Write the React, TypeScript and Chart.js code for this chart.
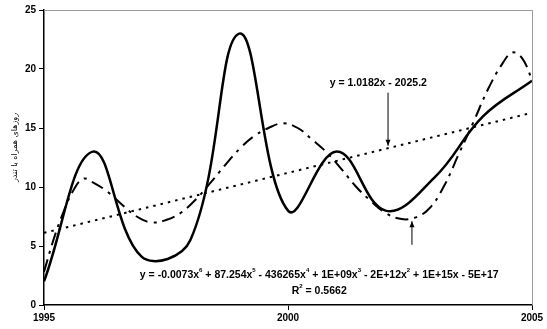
import { useEffect, useRef } from "react";
import { Chart, registerables } from "chart.js";

Chart.register(...registerables);

const years = [1995, 1996, 1997, 1998, 1999, 2000, 2001, 2002, 2003, 2004, 2005];
const observed = [2, 13, 4.1, 5.5, 23, 8, 13, 8, 10.8, 16, 19];

const polyYears = [1995.0, 1995.2, 1995.4, 1995.6, 1995.8, 1996.0, 1996.3, 1996.6, 1996.9, 1997.2, 1997.5, 1997.8, 1998.1, 1998.4, 1998.7, 1999.0, 1999.3, 1999.6, 1999.9, 2000.2, 2000.5, 2000.8, 2001.1, 2001.4, 2001.7, 2002.0, 2002.3, 2002.6, 2002.9, 2003.2, 2003.5, 2003.8, 2004.1, 2004.4, 2004.6, 2004.8, 2005.0];
const polyValues = [2.8, 5.6, 7.9, 9.7, 10.7, 10.4, 9.6, 8.5, 7.5, 7.0, 7.2, 7.8, 8.9, 10.3, 11.8, 13.2, 14.3, 15.0, 15.4, 15.0, 14.0, 12.9, 11.5, 10.0, 8.8, 7.8, 7.3, 7.4, 8.2, 10.1, 12.8, 15.5, 18.3, 20.5, 21.4, 20.9, 19.1];

const trendYears = [1995, 2005];
const trendValues = [6.11, 16.29];

const yTicks = [0, 5, 10, 15, 20, 25];
const xTicks = [1995, 2000, 2005];

const yTitle = "روزهای همراه با تندر";
const linearEq = "y = 1.0182x - 2025.2";
const polyEq: [string, boolean][] = [
  ["y = -0.0073x", false], ["6", true], [" + 87.254x", false], ["5", true],
  [" - 436265x", false], ["4", true], [" + 1E+09x", false], ["3", true],
  [" - 2E+12x", false], ["2", true], [" + 1E+15x - 5E+17", false],
];
const r2Eq: [string, boolean][] = [["R", false], ["2", true], [" = 0.5662", false]];

const FONT = "'Liberation Sans', Arial, sans-serif";

function drawRich(ctx: CanvasRenderingContext2D, segs: [string, boolean][], cx: number, cy: number, size: number) {
  const main = `bold ${size}px ${FONT}`;
  const sup = `bold ${Math.round(size * 0.6)}px ${FONT}`;
  let total = 0;
  for (const [t, s] of segs) {
    ctx.font = s ? sup : main;
    total += ctx.measureText(t).width;
  }
  let x = cx - total / 2;
  ctx.textBaseline = "middle";
  ctx.textAlign = "left";
  for (const [t, s] of segs) {
    ctx.font = s ? sup : main;
    ctx.fillText(t, x, s ? cy - size * 0.4 : cy);
    x += ctx.measureText(t).width;
  }
}

function arrow(ctx: CanvasRenderingContext2D, x: number, y1: number, y2: number) {
  ctx.beginPath();
  ctx.moveTo(x, y1);
  ctx.lineTo(x, y2);
  ctx.strokeStyle = "#000";
  ctx.lineWidth = 1;
  ctx.setLineDash([]);
  ctx.stroke();
  const dir = y2 > y1 ? 1 : -1;
  ctx.beginPath();
  ctx.moveTo(x, y2);
  ctx.lineTo(x - 2.5, y2 - dir * 6);
  ctx.lineTo(x + 2.5, y2 - dir * 6);
  ctx.closePath();
  ctx.fillStyle = "#000";
  ctx.fill();
}

const annotations = {
  id: "annotations",
  afterDatasetsDraw(chart: any) {
    const { ctx, chartArea: a, scales } = chart;
    const xs = scales.x, ys = scales.y;
    ctx.save();
    ctx.strokeStyle = "#9a9a9a";
    ctx.lineWidth = 1;
    ctx.setLineDash([]);
    ctx.beginPath();
    ctx.moveTo(a.left, a.top + 0.5);
    ctx.lineTo(a.right + 0.5, a.top + 0.5);
    ctx.lineTo(a.right + 0.5, a.bottom);
    ctx.stroke();

    ctx.fillStyle = "#000";
    ctx.font = `bold 10.5px ${FONT}`;
    ctx.textAlign = "center";
    ctx.textBaseline = "middle";
    ctx.fillText(linearEq, xs.getPixelForValue(2001.85), ys.getPixelForValue(18.8));
    arrow(ctx, xs.getPixelForValue(2002.05), ys.getPixelForValue(18.0), ys.getPixelForValue(13.5));
    arrow(ctx, xs.getPixelForValue(2002.54), ys.getPixelForValue(5.1), ys.getPixelForValue(7.1));

    ctx.fillStyle = "#000";
    drawRich(ctx, polyEq, xs.getPixelForValue(2000.64), ys.getPixelForValue(2.54), 10.5);
    drawRich(ctx, r2Eq, xs.getPixelForValue(2000.64), ys.getPixelForValue(1.19), 10.5);

    ctx.save();
    ctx.translate(15, (a.top + a.bottom) / 2 - 10);
    ctx.rotate(-Math.PI / 2);
    ctx.font = `8px 'DejaVu Sans', sans-serif`;
    ctx.fillStyle = "#000";
    ctx.textAlign = "center";
    ctx.textBaseline = "middle";
    ctx.fillText(yTitle, 0, 0);
    ctx.restore();
    ctx.restore();
  },
};

export default function App() {
  const ref = useRef<HTMLCanvasElement | null>(null);
  useEffect(() => {
    document.body.style.margin = "0";
    const canvas = ref.current!;
    const chart = new Chart(canvas, {
      type: "line",
      data: {
        datasets: [
          {
            label: "observed",
            data: years.map((y, i) => ({ x: y, y: observed[i] })),
            borderColor: "#000",
            borderWidth: 2.5,
            pointRadius: 0,
            tension: 0.4,
            fill: false,
          },
          {
            label: "poly",
            data: polyYears.map((y, i) => ({ x: y, y: polyValues[i] })),
            borderColor: "#000",
            borderWidth: 2,
            borderDash: [13, 6, 3, 6],
            pointRadius: 0,
            tension: 0.4,
            fill: false,
          },
          {
            label: "linear",
            data: trendYears.map((y, i) => ({ x: y, y: trendValues[i] })),
            borderColor: "#000",
            borderWidth: 2,
            borderDash: [2.5, 5],
            pointRadius: 0,
            tension: 0,
            fill: false,
          },
        ],
      },
      options: {
        animation: false,
        responsive: false,
        maintainAspectRatio: false,
        layout: { padding: { top: 10, right: 15, left: 0, bottom: 0 } },
        plugins: { legend: { display: false }, tooltip: { enabled: false } },
        scales: {
          x: {
            type: "linear",
            min: 1995,
            max: 2005,
            afterBuildTicks: (s: any) => { s.ticks = xTicks.map((v) => ({ value: v })); },
            afterFit: (s: any) => { s.height = 24; },
            grid: { drawOnChartArea: false, color: "#000", tickLength: 5, tickColor: "#000" },
            border: { color: "#000", width: 1.5 },
            ticks: {
              color: "#000",
              font: { family: FONT, size: 10, weight: "bold" },
              maxRotation: 0,
              padding: 2,
              callback: (v: any) => String(v),
            },
          },
          y: {
            min: 0,
            max: 25,
            afterBuildTicks: (s: any) => { s.ticks = yTicks.map((v) => ({ value: v })); },
            afterFit: (s: any) => { s.width = 44; },
            grid: { drawOnChartArea: false, color: "#000", tickLength: 5, tickColor: "#000" },
            border: { color: "#000", width: 1.5 },
            ticks: {
              color: "#000",
              font: { family: FONT, size: 10, weight: "bold" },
              padding: 3,
            },
          },
        },
      },
      plugins: [annotations],
    });
    return () => chart.destroy();
  }, []);
  return (
    <div style={{ width: 547, height: 329 }}>
      <canvas ref={ref} width={547} height={329} style={{ display: "block" }} />
    </div>
  );
}
